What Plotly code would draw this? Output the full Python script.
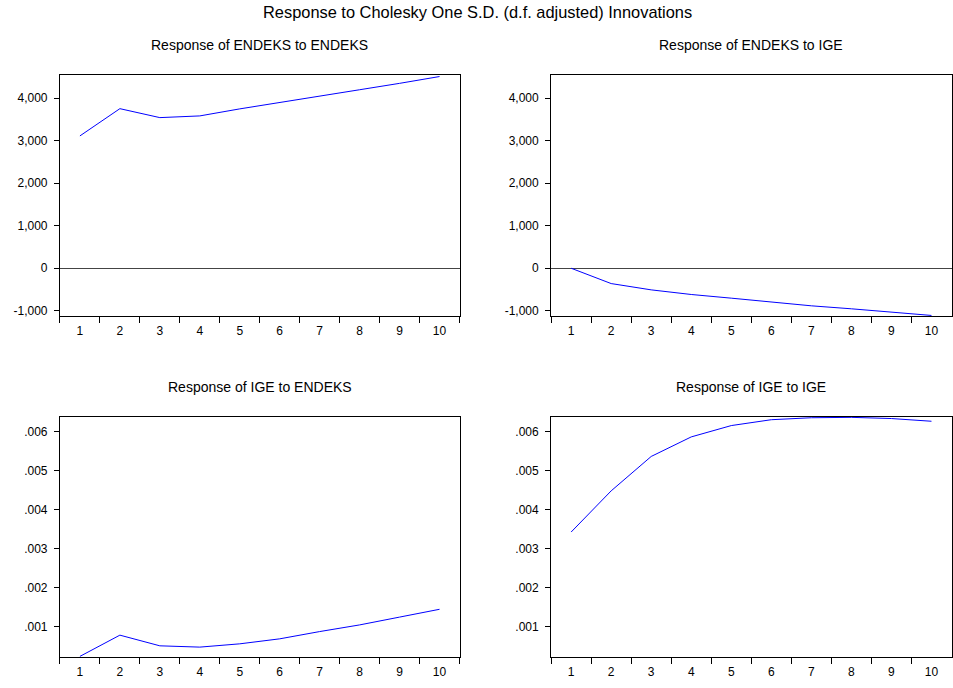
import plotly.graph_objects as go

periods = ["1", "2", "3", "4", "5", "6", "7", "8", "9", "10"]

endeks_to_endeks = [3110, 3750, 3540, 3580, 3745, 3900, 4050, 4195, 4345, 4505]
endeks_to_ige = [0, -360, -508, -617, -703, -797, -883, -953, -1031, -1109]
ige_to_endeks = [0.000245, 0.000788, 0.000515, 0.000482, 0.000566, 0.000694, 0.00088, 0.00105, 0.00125, 0.00145]
ige_to_ige = [0.003426, 0.00448, 0.00536, 0.00586, 0.00615, 0.0063, 0.00635, 0.00636, 0.00633, 0.00626]

top_tickvals = [-1000, 0, 1000, 2000, 3000, 4000]
top_ticktext = ["-1,000", "0", "1,000", "2,000", "3,000", "4,000"]
bot_tickvals = [0.001, 0.002, 0.003, 0.004, 0.005, 0.006]
bot_ticktext = [".001", ".002", ".003", ".004", ".005", ".006"]

main_title = "Response to Cholesky One S.D. (d.f. adjusted) Innovations"
panel_titles = ["Response of ENDEKS to ENDEKS", "Response of ENDEKS to IGE",
                "Response of IGE to ENDEKS", "Response of IGE to IGE"]

W, H = 953, 688
FONT = "Liberation Sans, Arial, sans-serif"

xdom_left = [60 / W, 460 / W]
xdom_right = [551.7 / W, 952.5 / W]
ydom_top = [1 - 317 / H, 1 - 75.7 / H]
ydom_bot = [1 - 659 / H, 1 - 418.3 / H]

fig = go.Figure()
series = [endeks_to_endeks, endeks_to_ige, ige_to_endeks, ige_to_ige]
for i, s in enumerate(series):
    sfx = "" if i == 0 else str(i + 1)
    fig.add_trace(go.Scatter(x=periods, y=s, mode="lines",
                             line=dict(color="#0000FF", width=1),
                             xaxis="x" + sfx, yaxis="y" + sfx, showlegend=False,
                             cliponaxis=False, hoverinfo="skip"))

xcommon = dict(type="category", tickson="boundaries", ticks="outside", ticklen=6,
               tickcolor="black", showline=True, linecolor="black", linewidth=1,
               mirror=True, showgrid=False, zeroline=False, ticklabelstandoff=4,
               tickfont=dict(family=FONT, size=12, color="black"),
               range=[-0.5, 9.5])
ytop = dict(range=[-1124, 4530], tickvals=top_tickvals, ticktext=top_ticktext,
            ticks="outside", ticklen=5, tickcolor="black", showline=True,
            linecolor="black", linewidth=1, mirror=True, showgrid=False,
            zeroline=True, zerolinecolor="#444444", zerolinewidth=1,
            ticklabelstandoff=4,
            tickfont=dict(family=FONT, size=12, color="black"))
ybot = dict(ytop)
ybot.update(range=[0.000227, 0.006367], tickvals=bot_tickvals, ticktext=bot_ticktext,
            zeroline=False)

layout = dict(width=W, height=H, margin=dict(l=0, r=0, t=0, b=0),
              paper_bgcolor="white", plot_bgcolor="white", showlegend=False)
doms = [(xdom_left, ydom_top, ytop), (xdom_right, ydom_top, ytop),
        (xdom_left, ydom_bot, ybot), (xdom_right, ydom_bot, ybot)]
for i, (xd, yd, yc) in enumerate(doms):
    sfx = "" if i == 0 else str(i + 1)
    xa = dict(xcommon)
    xa.update(domain=xd, anchor="y" + sfx)
    ya = dict(yc)
    ya.update(domain=yd, anchor="x" + sfx)
    layout["xaxis" + sfx] = xa
    layout["yaxis" + sfx] = ya

annotations = [dict(text=main_title, x=478 / W, y=1 - 12 / H, xref="paper", yref="paper",
                    xanchor="center", yanchor="middle", showarrow=False,
                    font=dict(family=FONT, size=16.4, color="black"))]
title_pos = [((60 + 460) / 2, 45), ((551.7 + 952) / 2, 45),
             ((60 + 460) / 2, 388), ((551.7 + 952) / 2, 388)]
for t, (px, py) in zip(panel_titles, title_pos):
    annotations.append(dict(text=t, x=px / W, y=1 - py / H, xref="paper", yref="paper",
                            xanchor="center", yanchor="middle", showarrow=False,
                            font=dict(family=FONT, size=14, color="black")))
layout["annotations"] = annotations

fig.update_layout(**layout)
fig.write_html("out.html", config={"displayModeBar": False, "staticPlot": True},
               post_script="document.body.style.margin='0';document.body.style.overflow='hidden';")
